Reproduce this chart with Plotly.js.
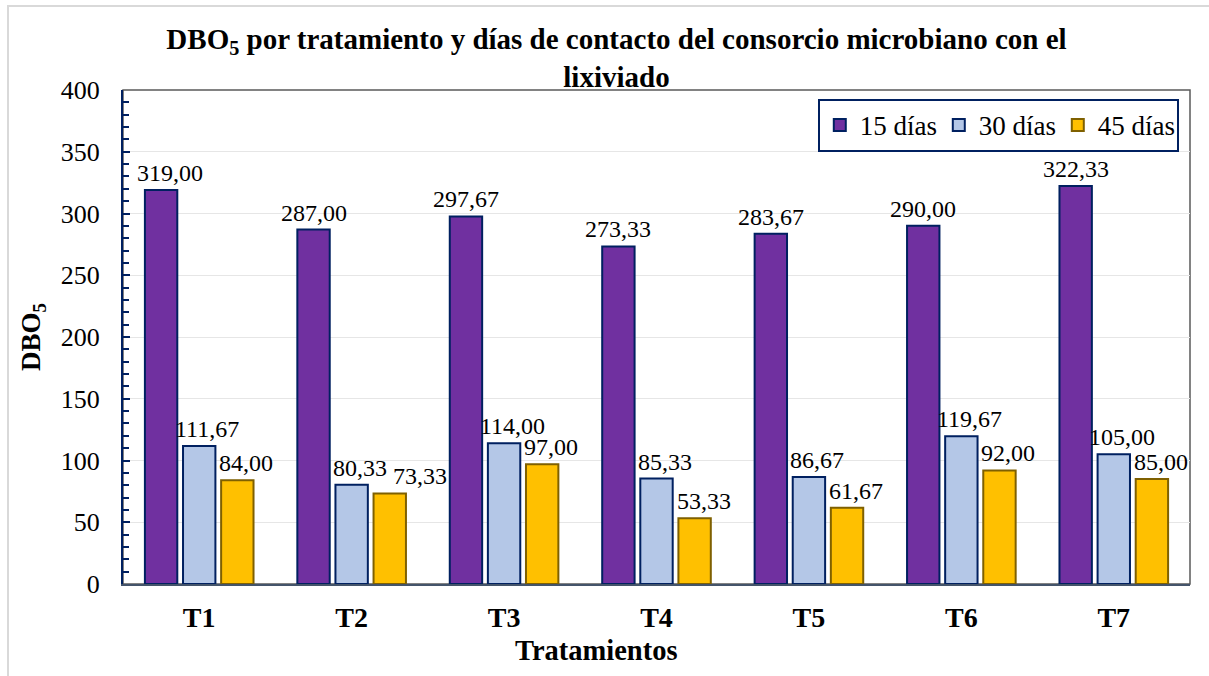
<!DOCTYPE html>
<html>
<head>
<meta charset="utf-8">
<script src="https://cdn.plot.ly/plotly-3.0.1.min.js"></script>
<style>
  html, body { margin: 0; padding: 0; background: #fff; overflow: hidden; }
  #chart { width: 1209px; height: 676px; position: absolute; left: 0; top: 0; }
  #frame { position: absolute; left: 7px; top: 5px; width: 1300px; height: 800px;
           border-left: 2px solid #d9d9d9; border-top: 2px solid #d9d9d9; pointer-events: none; }
</style>
</head>
<body>
<div id="chart"></div>
<div id="frame"></div>
<script>
const categories = ['T1', 'T2', 'T3', 'T4', 'T5', 'T6', 'T7'];
const seriesNames = ['15 días', '30 días', '45 días'];
const dias15 = [319.00, 287.00, 297.67, 273.33, 283.67, 290.00, 322.33];
const dias30 = [111.67, 80.33, 114.00, 85.33, 86.67, 119.67, 105.00];
const dias45 = [84.00, 73.33, 97.00, 53.33, 61.67, 92.00, 85.00];
const yTicks = [0, 50, 100, 150, 200, 250, 300, 350, 400];

const series = [dias15, dias30, dias45];
const fills = ['#7030A0', '#B4C7E7', '#FFC000'];
const outlines = ['#002060', '#002060', '#7F6000'];
const labelShift = [0, 8, 9];
const FONT = 'Liberation Serif, Times New Roman, serif';
const BARGAP = 0.25;

const W = 1209, H = 676;
const M = { l: 123, r: 19, t: 90, b: 92 };
const plotW = W - M.l - M.r, plotH = H - M.t - M.b;
const YMAX = 400;
const LABEL_SIZE = 24;

const traces = series.map((vals, i) => ({
  type: 'bar',
  name: seriesNames[i],
  x: categories,
  y: vals,
  marker: { color: fills[i], line: { color: outlines[i], width: 2 } },
  hoverinfo: 'skip'
}));

const fmt = v => v.toFixed(2).replace('.', ',');
// approximate rendered width of a label (serif digits 0.5em, comma 0.25em)
const labelWidth = s => (s.replace(',', '').length * 0.5 + 0.25) * LABEL_SIZE;
const slot = (1 - BARGAP) / series.length;
const catPx = plotW / categories.length;
const pxPerUnit = plotH / YMAX;
const annotations = [];
categories.forEach((c, j) => {
  let prevRight = null, prevV = null;
  series.forEach((vals, i) => {
    const v = vals[j];
    const txt = fmt(v);
    const lw = labelWidth(txt);
    const xi = j + (i - (series.length - 1) / 2) * slot;
    let shift = labelShift[i];
    let centerPx = (xi + 0.5) * catPx + shift;
    const minLeft = 14;
    if (centerPx - lw / 2 < minLeft) { shift += minLeft - (centerPx - lw / 2); centerPx = (xi + 0.5) * catPx + shift; }
    if (prevRight !== null && Math.abs(prevV - v) * pxPerUnit < 18) {
      const left = centerPx - lw / 2;
      if (left < prevRight + 6) { shift += prevRight + 6 - left; centerPx = (xi + 0.5) * catPx + shift; }
    }
    prevRight = centerPx + lw / 2; prevV = v;
    annotations.push({
      x: xi, y: v, xref: 'x', yref: 'y',
      text: txt, showarrow: false,
      xanchor: 'center', yanchor: 'bottom',
      xshift: shift, yshift: 2,
      font: { family: FONT, size: LABEL_SIZE, color: '#000' }
    });
  });
});
annotations.push({
  text: '<b>Tratamientos</b>',
  xref: 'paper', yref: 'paper', x: 0.444, y: -0.135,
  xanchor: 'center', yanchor: 'middle', showarrow: false,
  font: { family: FONT, size: 28.5, color: '#000' }
});

const layout = {
  width: W, height: H,
  paper_bgcolor: 'rgba(0,0,0,0)', plot_bgcolor: '#fff',
  margin: M,
  barmode: 'group', bargap: BARGAP, bargroupgap: 0.15,
  title: {
    text: '<b>DBO<sub>5</sub> por tratamiento y días de contacto del consorcio microbiano con el<br>lixiviado</b>',
    font: { family: FONT, size: 29, color: '#000' },
    x: 0.4625, xanchor: 'center', xref: 'paper',
    y: 1 - 49 / 676, yanchor: 'top', yref: 'container'
  },
  xaxis: {
    type: 'category',
    tickfont: { family: FONT, size: 28, color: '#000', weight: 'bold' },
    ticks: '', showgrid: false,
    showline: true, linecolor: '#44546A', linewidth: 2,
    ticklabelstandoff: 7
  },
  yaxis: {
    range: [0, YMAX],
    tickvals: yTicks,
    ticktext: yTicks.map(String),
    tickfont: { family: FONT, size: 26, color: '#000' },
    ticks: 'inside', ticklen: 7, tickwidth: 2, tickcolor: '#002060',
    minor: { dtick: 10, ticks: 'inside', ticklen: 6, tickwidth: 2, tickcolor: '#002060', showgrid: false },
    showgrid: true, gridcolor: '#e6e6e6', gridwidth: 1,
    showline: true, linecolor: '#002060', linewidth: 2,
    zeroline: false,
    ticklabelstandoff: 16,
    title: { text: '<b>DBO<sub>5</sub></b>', font: { family: FONT, size: 27, color: '#000' }, standoff: 12 }
  },
  legend: {
    orientation: 'h',
    x: 0.9895, xanchor: 'right', xref: 'paper',
    y: 0.982, yanchor: 'top', yref: 'paper',
    bgcolor: '#fff', bordercolor: '#002060', borderwidth: 2,
    font: { family: FONT, size: 27, color: '#000' },
    itemwidth: 30, tracegroupgap: 0,
    entrywidth: 74, entrywidthmode: 'pixels'
  },
  shapes: [{
    type: 'rect', xref: 'paper', yref: 'paper', x0: 0, x1: 1, y0: 0, y1: 1,
    line: { color: '#595959', width: 1.5 }, layer: 'below'
  }],
  annotations: annotations,
  showlegend: true
};

Plotly.newPlot('chart', traces, layout, { displayModeBar: false, staticPlot: true });
</script>
</body>
</html>
